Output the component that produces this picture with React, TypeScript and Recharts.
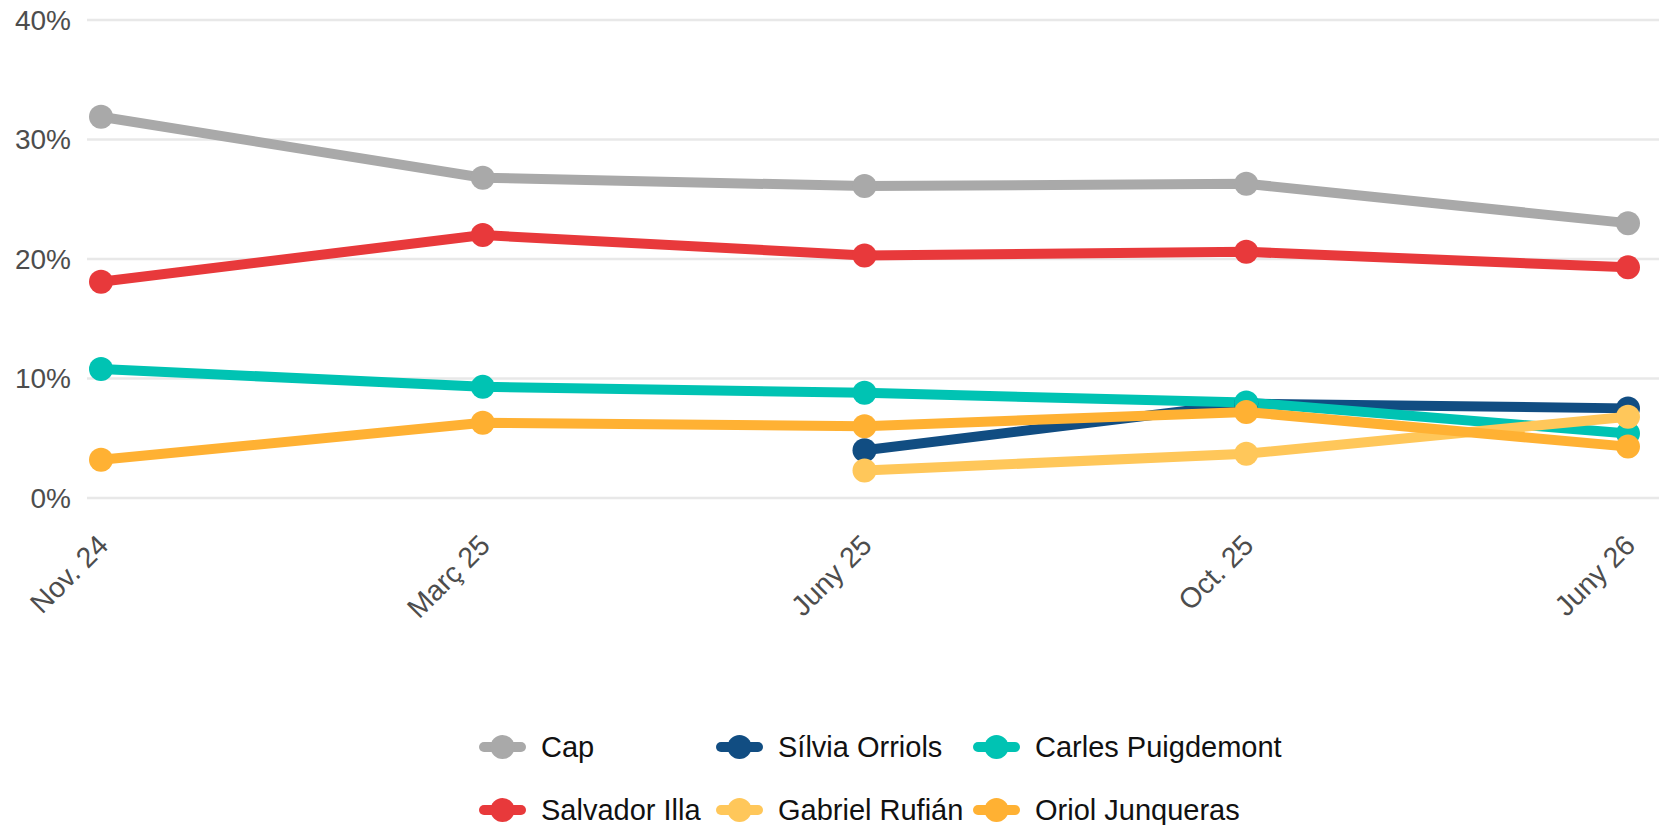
import React from 'react';
import { LineChart, Line, XAxis, YAxis, CartesianGrid, Legend } from 'recharts';

const categories = ['Nov. 24', 'Març 25', 'Juny 25', 'Oct. 25', 'Juny 26'];
const cap = [31.9, 26.8, 26.1, 26.3, 23.0];
const orriols = [null, null, 4.0, 7.9, 7.5];
const puigdemont = [10.8, 9.3, 8.8, 8.0, 5.4];
const illa = [18.1, 22.0, 20.3, 20.6, 19.3];
const rufian = [null, null, 2.3, 3.7, 6.8];
const junqueras = [3.2, 6.3, 6.0, 7.2, 4.3];
const yTicks = [0, 10, 20, 30, 40];

const seriesKeys = ['cap', 'orriols', 'puigdemont', 'illa', 'rufian', 'junqueras'];
const seriesNames = ['Cap', 'Sílvia Orriols', 'Carles Puigdemont', 'Salvador Illa', 'Gabriel Rufián', 'Oriol Junqueras'];
const seriesColors = ['#a9a9a9', '#114d82', '#00c3b3', '#e8393b', '#ffc75a', '#ffb133'];
const seriesValues = [cap, orriols, puigdemont, illa, rufian, junqueras];

const data = categories.map((c, i) => {
  const row: any = { cat: c };
  seriesKeys.forEach((k, j) => {
    row[k] = seriesValues[j][i];
  });
  return row;
});

const FONT = '"Liberation Sans", Arial, Helvetica, sans-serif';

const XTick = (props: any) => {
  const { x, payload } = props;
  const ax = x + 2;
  const ay = 540;
  return (
    <text
      x={ax}
      y={ay}
      textAnchor="end"
      dominantBaseline="central"
      transform={`rotate(-45, ${ax}, ${ay})`}
      fontSize={28.5}
      fill="#4d4d4d"
      fontFamily={FONT}
    >
      {payload.value}
    </text>
  );
};

const YTick = (props: any) => {
  const { y, payload } = props;
  return (
    <text x={71} y={y} textAnchor="end" dominantBaseline="central" fontSize={28} fill="#4d4d4d" fontFamily={FONT}>
      {`${payload.value}%`}
    </text>
  );
};

const colLeft = [479, 716, 973];
const rowCenter = [747, 810];

const LegendContent = () => (
  <div style={{ position: 'relative', height: 0, width: 0 }}>
    {seriesNames.map((name, i) => {
      const col = i % 3;
      const row = Math.floor(i / 3);
      return (
        <div
          key={name}
          style={{
            position: 'absolute',
            left: colLeft[col],
            top: rowCenter[row] - 20,
            height: 40,
            display: 'flex',
            alignItems: 'center',
            whiteSpace: 'nowrap',
          }}
        >
          <svg width={47} height={26} style={{ display: 'block' }}>
            <line x1={5} y1={13} x2={42} y2={13} stroke={seriesColors[i]} strokeWidth={10} strokeLinecap="round" />
            <circle cx={23.5} cy={13} r={12} fill={seriesColors[i]} />
          </svg>
          <span style={{ marginLeft: 15, fontSize: 29, fontFamily: FONT, color: '#111' }}>{name}</span>
        </div>
      );
    })}
  </div>
);

export default function App() {
  return (
    <div style={{ position: 'absolute', left: 0, top: 0, width: 1659, height: 825, background: '#fff' }}>
      <LineChart width={1659} height={825} data={data} margin={{ top: 20, right: 0, bottom: 0, left: 0 }}>
        <CartesianGrid vertical={false} stroke="#e8e8e8" strokeWidth={2.5} />
        <XAxis
          dataKey="cat"
          axisLine={false}
          tickLine={false}
          tickSize={0}
          height={327}
          padding={{ left: 14, right: 31 }}
          interval={0}
          tick={<XTick />}
        />
        <YAxis
          domain={[0, 40]}
          ticks={yTicks}
          axisLine={false}
          tickLine={false}
          width={87}
          tick={<YTick />}
        />
        <Legend
          content={<LegendContent />}
          wrapperStyle={{ top: 0, left: 0, width: 0, height: 0 }}
        />
        {seriesKeys.map((k, i) => (
          <Line
            key={k}
            dataKey={k}
            name={seriesNames[i]}
            stroke={seriesColors[i]}
            strokeWidth={10}
            dot={{ r: 12, fill: seriesColors[i], stroke: 'none' }}
            activeDot={false}
            isAnimationActive={false}
          />
        ))}
      </LineChart>
    </div>
  );
}
